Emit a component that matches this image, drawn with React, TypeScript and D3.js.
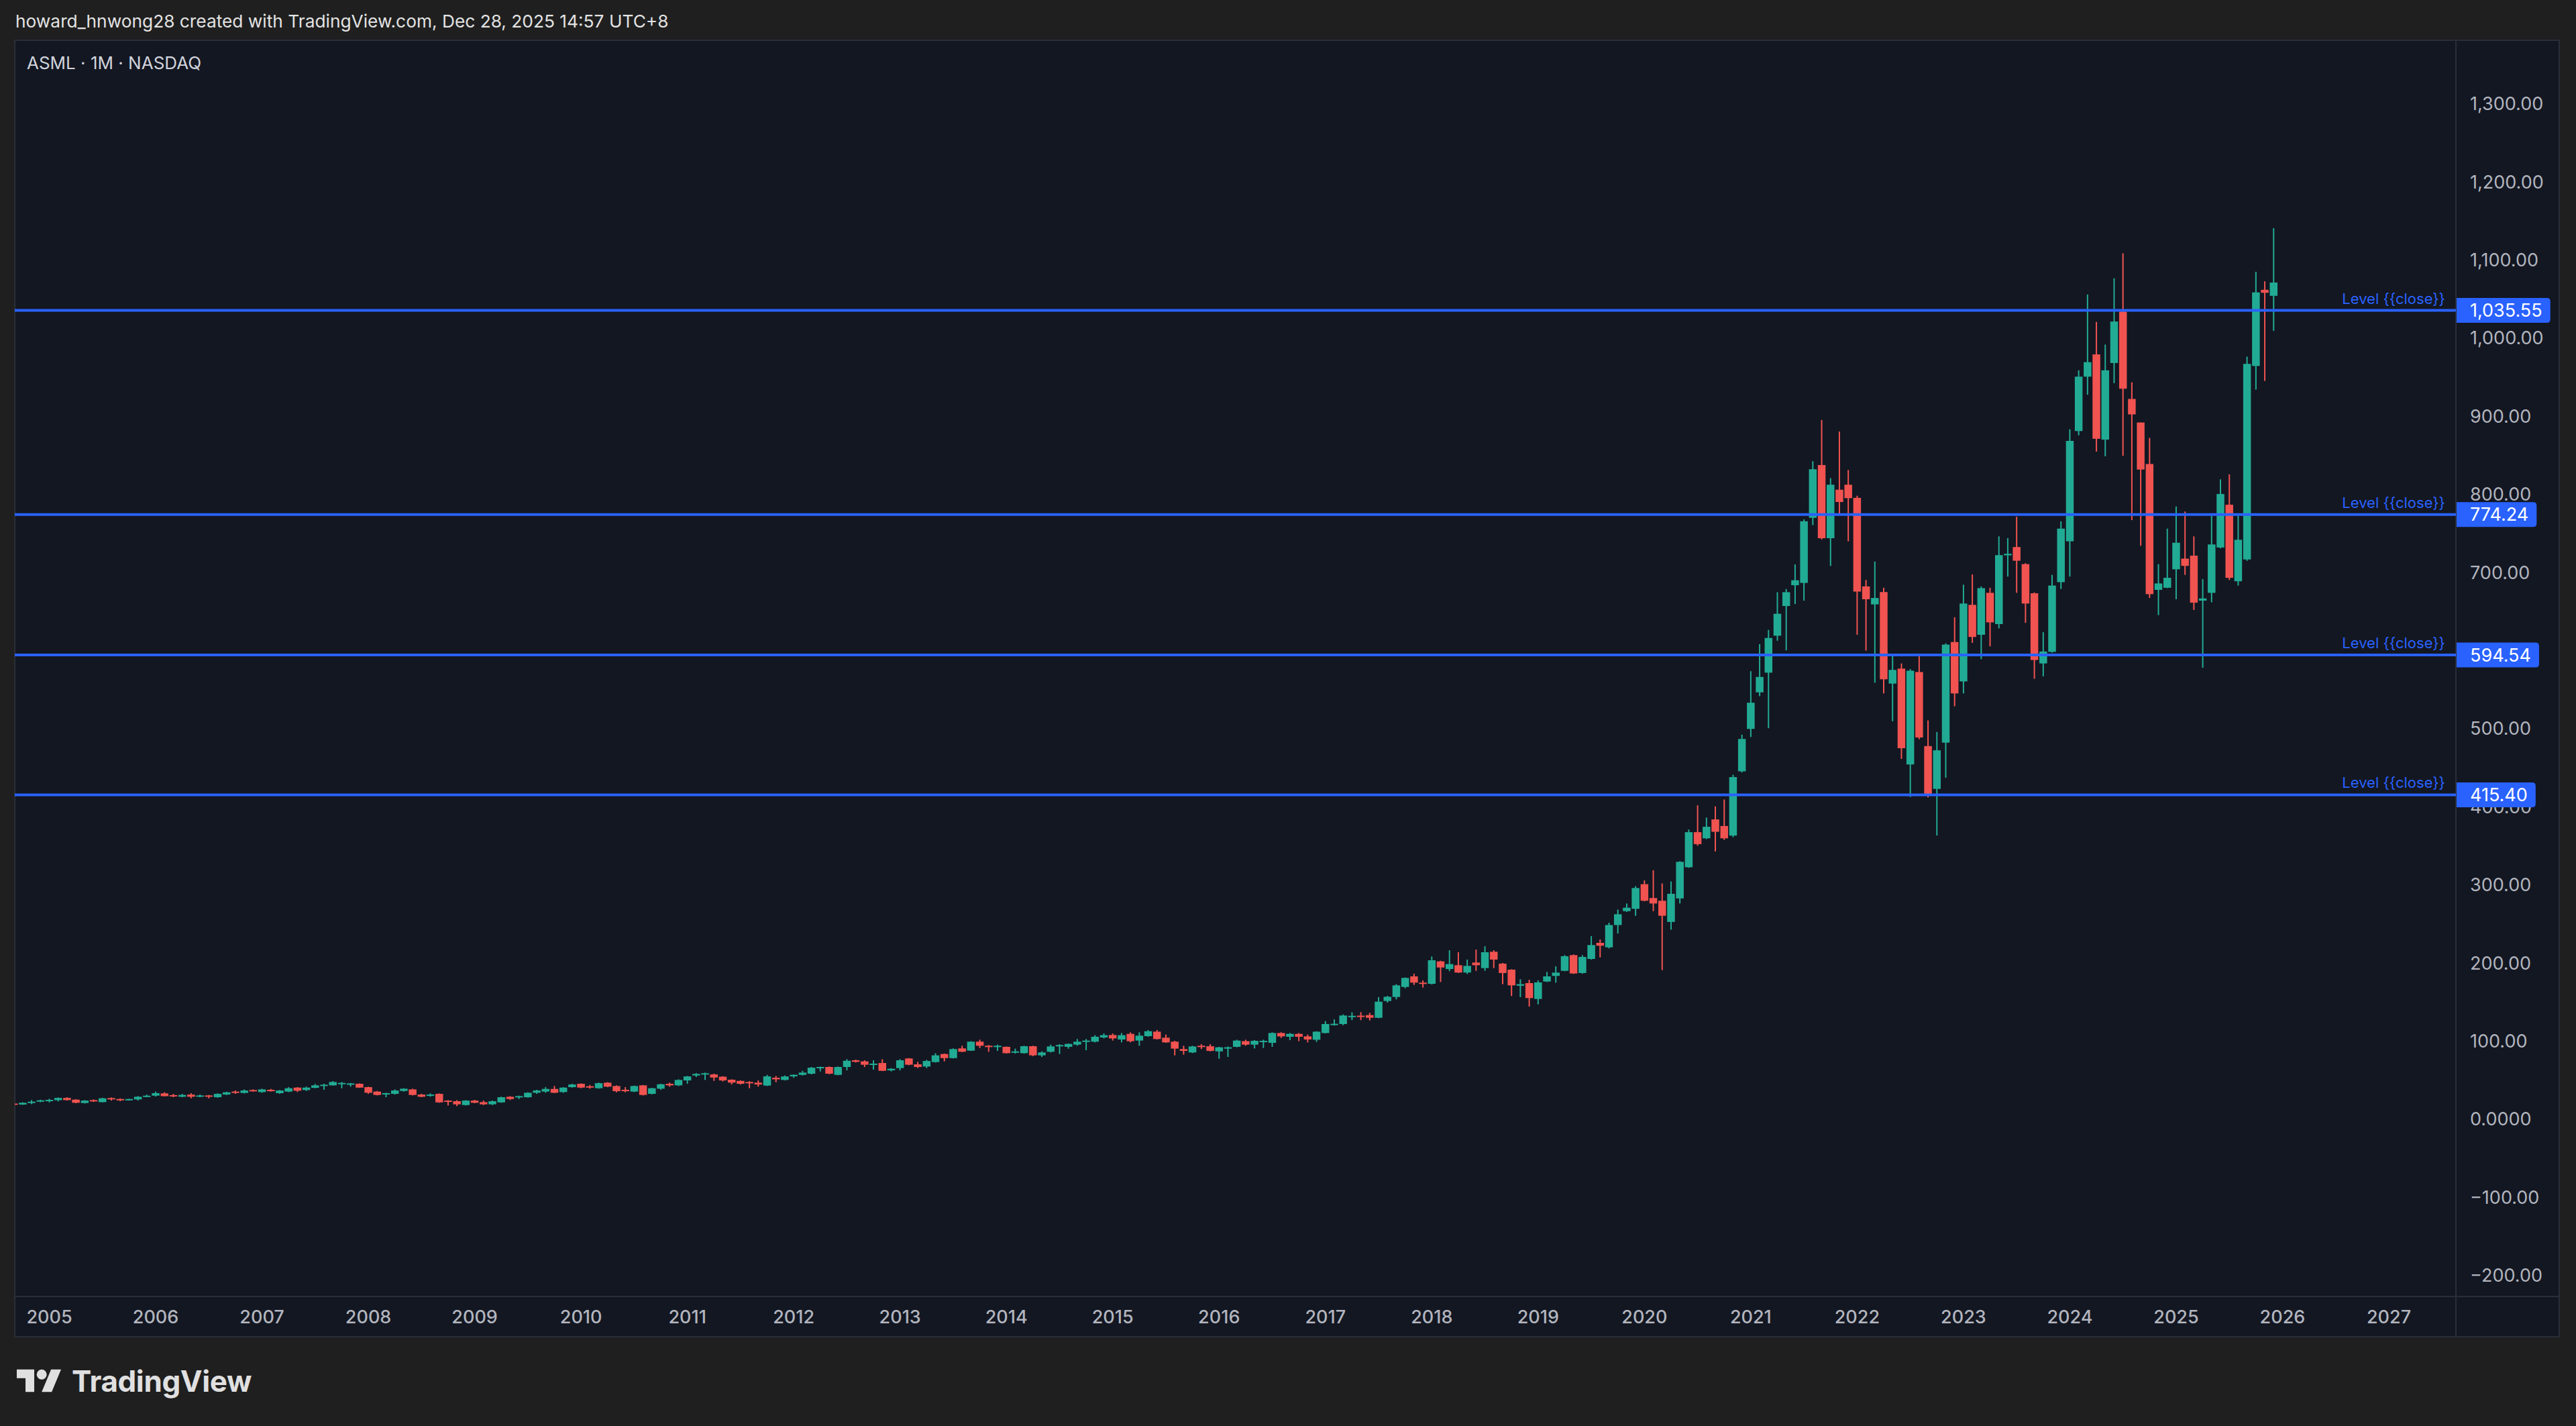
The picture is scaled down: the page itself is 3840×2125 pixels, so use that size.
import { useMemo } from "react";
import * as d3 from "d3";

// Monthly candles, first one is Sep 2004 (index -4 relative to Jan 2005)
const FIRST_MONTH_OFFSET = -4;

const OPEN = [
  20.2, 18.9, 21.0, 22.9,
  24.0, 24.5, 27.4, 25.2, 20.9, 24.6, 22.0, 27.2, 26.0, 24.3, 25.5, 28.9,
  30.3, 33.2, 31.0, 28.9, 31.7, 28.9, 30.6, 28.3, 31.7, 35.5, 33.8, 37.5,
  34.9, 37.8, 33.5, 35.5, 40.6, 37.5, 40.3, 43.5, 43.5, 45.5, 44.6, 45.5,
  41.2, 35.5, 32.0, 32.6, 36.3, 38.3, 31.7, 30.6, 32.6, 24.0, 23.2, 18.3,
  24.0, 22.0, 19.2, 21.7, 28.9, 28.3, 28.3, 34.0, 35.5, 38.9, 34.9, 41.2,
  45.5, 42.3, 39.8, 46.9, 42.6, 37.8, 35.5, 43.5, 32.6, 39.2, 45.5, 43.5,
  49.8, 56.1, 57.8, 57.5, 54.6, 50.7, 49.2, 47.8, 46.9, 43.2, 53.2, 50.4,
  55.0, 56.9, 58.4, 66.1, 67.0, 56.9, 67.0, 75.6, 74.2, 69.9, 72.1, 62.7,
  65.6, 77.9, 70.4, 67.6, 73.3, 83.6, 78.4, 90.8, 87.9, 99.4, 94.2, 92.8,
  92.8, 85.6, 84.7, 93.6, 81.9, 86.5, 93.9, 92.8, 95.6, 99.1, 99.4, 104.8,
  107.9, 102.2, 109.4, 100.8, 106.5, 112.2, 104.5, 99.4, 89.9, 85.6, 94.2, 93.6,
  87.0, 90.8, 92.8, 100.0, 95.6, 99.1, 97.9, 110.5, 105.7, 109.4, 106.2, 101.9,
  110.5, 120.8, 122.0, 131.5, 132.7, 133.4, 130.0, 151.5, 156.6, 169.5, 183.0, 175.0,
  173.5, 202.2, 192.4, 197.3, 187.9, 200.7, 193.6, 214.5, 199.3, 191.6, 171.0, 174.4,
  154.1, 176.4, 183.6, 190.1, 210.2, 187.3, 205.3, 225.9, 220.2, 248.7, 266.5, 269.5,
  301.0, 283.3, 279.8, 252.7, 282.8, 322.7, 367.6, 359.7, 383.9, 375.5, 363.2, 445.5,
  499.8, 546.6, 571.8, 619.1, 657.1, 683.7, 686.7, 770.0, 837.6, 743.9, 806.0, 812.4,
  795.6, 682.2, 659.2, 675.0, 557.8, 577.0, 454.3, 572.6, 477.8, 423.0, 482.2, 611.0,
  560.6, 658.6, 620.3, 674.0, 634.0, 722.0, 732.6, 710.7, 673.4, 583.6, 598.4, 687.7,
  740.0, 881.1, 950.7, 979.2, 870.1, 968.2, 1033.9, 922.2, 892.0, 838.9, 677.8, 680.5,
  704.1, 717.8, 721.6, 664.0, 674.0, 732.0, 786.8, 688.8, 716.7, 964.4, 1061.9, 1054.2,
];

const HIGH = [
  20.8, 21.8, 24.6, 25.2,
  26.3, 28.0, 28.3, 25.7, 24.6, 25.5, 27.7, 28.0, 26.9, 26.3, 29.7, 31.7,
  35.5, 34.6, 32.6, 32.6, 33.5, 31.7, 31.2, 33.2, 35.2, 36.9, 38.3, 38.3,
  39.2, 38.9, 37.5, 41.2, 41.2, 41.8, 45.2, 45.5, 48.9, 47.8, 46.6, 46.0,
  41.8, 36.3, 34.0, 38.3, 39.8, 39.2, 32.6, 33.2, 33.2, 24.6, 24.6, 24.6,
  24.9, 24.0, 24.0, 28.9, 29.7, 30.3, 34.6, 37.8, 41.2, 42.6, 41.2, 45.5,
  46.0, 44.0, 46.9, 47.5, 43.5, 41.2, 43.2, 44.0, 40.3, 45.5, 46.9, 51.2,
  55.5, 59.2, 59.8, 58.4, 55.2, 51.2, 49.8, 48.9, 49.8, 56.9, 55.5, 56.1,
  57.5, 62.1, 67.0, 67.6, 67.6, 67.6, 77.0, 76.4, 75.6, 75.6, 77.0, 65.6,
  77.0, 78.4, 73.6, 76.1, 84.7, 84.2, 90.8, 94.2, 100.0, 101.9, 95.1, 95.6,
  93.3, 90.5, 94.2, 94.2, 87.0, 95.6, 96.2, 97.1, 102.8, 102.8, 107.7, 110.0,
  110.0, 110.5, 111.4, 111.4, 114.3, 114.3, 108.5, 100.5, 94.2, 94.2, 96.2, 96.2,
  92.8, 93.3, 101.9, 101.9, 101.4, 101.9, 111.4, 111.4, 110.5, 110.5, 108.5, 112.8,
  125.7, 127.9, 134.3, 137.0, 137.2, 136.3, 156.4, 158.0, 173.0, 181.6, 186.4, 177.8,
  208.5, 203.0, 216.5, 213.9, 204.5, 217.3, 221.6, 216.5, 200.2, 192.1, 179.3, 178.7,
  177.8, 188.7, 195.9, 210.2, 211.1, 210.2, 234.5, 230.2, 251.7, 268.5, 276.3, 298.5,
  305.9, 318.8, 302.0, 304.5, 330.5, 371.0, 402.1, 386.3, 400.6, 409.5, 441.1, 492.4,
  573.7, 608.3, 626.5, 674.8, 678.8, 710.4, 768.1, 842.5, 895.3, 820.8, 880.5, 831.2,
  798.3, 690.4, 714.0, 680.5, 592.9, 583.6, 576.4, 592.9, 510.7, 495.9, 609.3, 642.8,
  684.4, 697.5, 682.2, 680.5, 746.3, 744.1, 771.5, 712.0, 674.5, 623.6, 697.0, 765.5,
  883.3, 958.9, 1055.9, 1020.8, 991.8, 1076.7, 1108.5, 943.5, 892.0, 872.3, 710.7, 756.2,
  784.6, 778.1, 746.3, 691.5, 772.6, 819.2, 825.7, 772.6, 976.4, 1084.9, 1072.8, 1140.8,
];

const LOW = [
  19.0, 18.5, 19.4, 22.0,
  21.7, 22.9, 24.0, 20.6, 20.3, 22.3, 21.7, 24.0, 23.2, 24.0, 24.0, 28.3,
  29.2, 29.2, 28.3, 28.3, 26.9, 28.3, 26.9, 27.7, 31.2, 32.6, 33.2, 35.5,
  34.0, 35.5, 32.6, 34.9, 34.9, 36.3, 39.8, 37.8, 43.2, 39.8, 41.8, 40.3,
  32.6, 30.6, 28.3, 31.7, 35.5, 30.6, 28.3, 28.9, 21.2, 17.7, 16.9, 17.7,
  20.6, 18.3, 18.3, 21.2, 24.6, 26.0, 27.7, 32.6, 34.0, 33.5, 34.0, 40.6,
  39.8, 39.2, 39.2, 41.2, 34.6, 34.6, 34.9, 30.6, 32.0, 37.8, 41.8, 42.6,
  45.5, 54.1, 50.4, 49.2, 48.4, 44.6, 44.6, 39.8, 41.8, 42.6, 47.5, 49.8,
  53.2, 56.1, 57.5, 61.3, 57.8, 56.4, 62.7, 72.7, 67.0, 63.6, 61.9, 61.3,
  62.7, 69.3, 65.6, 65.6, 72.7, 74.2, 77.9, 86.0, 87.6, 91.3, 86.5, 87.6,
  84.2, 84.2, 84.2, 80.8, 79.9, 85.6, 83.6, 90.5, 94.2, 88.5, 98.5, 103.6,
  100.8, 98.5, 98.5, 94.2, 105.7, 102.2, 97.9, 81.9, 82.8, 84.8, 89.9, 87.0,
  77.6, 79.9, 92.2, 94.2, 90.8, 91.3, 92.8, 104.2, 101.4, 100.0, 98.5, 99.1,
  110.0, 120.0, 120.5, 127.0, 127.0, 126.6, 129.5, 149.5, 153.5, 167.8, 172.1, 168.7,
  172.6, 175.8, 189.6, 187.3, 186.0, 190.1, 190.1, 193.6, 173.0, 157.8, 156.4, 144.3,
  147.2, 175.8, 175.0, 189.6, 186.1, 186.4, 204.5, 207.3, 218.8, 237.9, 265.5, 260.6,
  279.0, 266.5, 191.0, 242.8, 276.3, 322.0, 350.3, 358.7, 342.9, 357.7, 361.2, 444.0,
  489.4, 541.7, 500.7, 612.7, 600.4, 659.6, 664.0, 760.7, 742.4, 708.4, 774.5, 740.0,
  620.3, 600.0, 558.9, 545.2, 509.6, 461.4, 412.6, 486.6, 412.0, 363.3, 437.3, 528.8,
  545.2, 609.9, 589.1, 605.5, 628.5, 694.8, 674.0, 635.6, 563.9, 567.1, 597.3, 678.9,
  694.8, 875.6, 927.6, 854.8, 848.8, 942.4, 849.3, 767.1, 734.2, 667.4, 645.5, 680.0,
  665.8, 697.0, 652.1, 578.1, 661.9, 731.0, 690.4, 683.3, 715.0, 934.2, 945.2, 1009.3,
];

const CLOSE = [
  19.5, 21.2, 22.6, 24.3,
  24.9, 27.4, 24.6, 21.2, 24.0, 22.9, 26.9, 25.5, 24.3, 26.0, 28.9, 30.3,
  33.5, 29.7, 30.3, 31.2, 28.9, 30.6, 28.9, 32.6, 34.6, 33.8, 36.9, 36.0,
  38.3, 36.0, 36.9, 39.8, 36.6, 40.6, 43.5, 44.3, 47.8, 46.6, 46.0, 40.6,
  34.0, 31.2, 33.5, 36.9, 39.2, 31.2, 28.9, 31.7, 21.7, 22.6, 19.2, 24.0,
  21.2, 19.2, 23.2, 28.3, 26.0, 29.7, 34.0, 36.9, 38.9, 34.0, 40.6, 44.6,
  40.6, 40.6, 46.3, 41.8, 36.0, 36.0, 42.6, 31.2, 39.8, 44.9, 43.5, 50.4,
  54.9, 58.1, 59.0, 53.5, 49.8, 47.0, 45.5, 46.3, 44.6, 55.0, 51.2, 54.9,
  57.0, 59.8, 66.1, 67.0, 58.4, 67.0, 75.0, 73.6, 69.9, 71.3, 62.1, 64.7,
  75.6, 69.9, 67.0, 74.7, 81.9, 78.4, 89.9, 86.5, 99.4, 94.2, 93.3, 94.2,
  84.7, 87.0, 93.6, 81.9, 85.6, 93.3, 95.1, 96.5, 99.4, 100.8, 105.7, 107.7,
  103.6, 107.7, 100.0, 107.1, 112.8, 102.8, 98.5, 90.5, 87.6, 93.3, 92.8, 87.6,
  92.2, 92.2, 100.8, 95.6, 100.5, 100.5, 110.5, 106.2, 109.4, 105.7, 102.2, 112.2,
  122.0, 122.3, 132.9, 132.5, 131.7, 130.0, 150.6, 156.9, 171.5, 181.0, 175.0, 173.5,
  203.6, 194.4, 198.7, 187.9, 196.4, 197.3, 213.9, 204.5, 187.3, 171.5, 173.0, 155.2,
  175.3, 183.0, 187.8, 208.8, 186.7, 207.9, 223.1, 222.2, 248.7, 262.5, 270.9, 296.1,
  279.8, 276.3, 260.6, 288.7, 329.6, 367.6, 352.3, 374.5, 368.1, 359.7, 438.1, 486.9,
  533.3, 566.3, 616.2, 647.2, 674.8, 690.1, 765.6, 832.2, 743.9, 812.4, 790.3, 795.2,
  675.6, 665.8, 667.4, 563.3, 575.3, 475.1, 574.3, 488.8, 414.8, 472.4, 607.7, 545.2,
  660.3, 617.5, 680.0, 636.2, 722.2, 724.0, 715.1, 660.3, 588.0, 598.9, 683.3, 756.2,
  868.5, 950.7, 969.3, 871.2, 958.9, 1021.3, 935.3, 902.4, 831.8, 672.3, 686.0, 693.2,
  738.1, 708.5, 661.4, 666.8, 735.9, 800.5, 693.2, 741.9, 967.1, 1058.6, 1058.1, 1071.2,
];

const YEAR_LABELS = [
  "2005", "2006", "2007", "2008", "2009", "2010", "2011", "2012", "2013", "2014", "2015", "2016",
  "2017", "2018", "2019", "2020", "2021", "2022", "2023", "2024", "2025", "2026", "2027",
];

const PRICE_TICKS = [-200, -100, 0, 100, 200, 300, 400, 500, 600, 700, 800, 900, 1000, 1100, 1200, 1300];
const PRICE_TICK_LABELS = [
  "−200.00", "−100.00", "0.0000", "100.00", "200.00", "300.00", "400.00", "500.00",
  "600.00", "700.00", "800.00", "900.00", "1,000.00", "1,100.00", "1,200.00", "1,300.00",
];

const LEVELS = [1035.55, 774.24, 594.54, 415.4];
const LEVEL_LABELS = ["1,035.55", "774.24", "594.54", "415.40"];

const HEADER = "howard_hnwong28 created with TradingView.com, Dec 28, 2025 14:57 UTC+8";
const SYMBOL = "ASML · 1M · NASDAQ";

const FONT = "Inter, 'Noto Sans', sans-serif";
const UP = "#22ab94";
const DOWN = "#f05350";
const BLUE = "#2962ff";

export default function App() {
  const width = 3840;
  const height = 2125;
  const pane = { left: 22, top: 60, right: 3815, bottom: 1992 };
  const axisX = 3661;
  const axisY = 1932;

  const x = d3.scaleLinear().domain([0, 264]).range([73.5, 3561]);
  const y = d3.scaleLinear().domain([0, 1300]).range([1668, 154.7]);

  const candles = OPEN.map((o, i) => ({
    m: i + FIRST_MONTH_OFFSET,
    o,
    h: HIGH[i],
    l: LOW[i],
    c: CLOSE[i],
  }));

  const bodyW = 11.5;

  // label widths for the price-scale boxes
  const labelWidths = useMemo(() => {
    const ctx = document.createElement("canvas").getContext("2d");
    if (!ctx) return LEVEL_LABELS.map((t) => t.length * 15);
    ctx.font = `27px Inter`;
    return LEVEL_LABELS.map((t) => ctx.measureText(t).width);
  }, []);

  const boxPath = (x0: number, yc: number, w: number, h: number, r: number) => {
    const t = yc - h / 2;
    const b = yc + h / 2;
    return `M${x0},${t}H${x0 + w - r}Q${x0 + w},${t} ${x0 + w},${t + r}V${b - r}Q${x0 + w},${b} ${x0 + w - r},${b}H${x0}Z`;
  };

  return (
    <svg
      width={width}
      height={height}
      style={{ position: "absolute", left: 0, top: 0, display: "block" }}
      fontFamily={FONT}
    >
      <defs>
        <clipPath id="plot-clip">
          <rect x={pane.left} y={pane.top} width={axisX - pane.left} height={axisY - pane.top} />
        </clipPath>
      </defs>

      <rect x={0} y={0} width={width} height={height} fill="#1f1f1f" />
      <text x={23} y={41} fill="#e3e3e3" fontSize={26.3}>
        {HEADER}
      </text>

      <rect
        x={pane.left}
        y={pane.top}
        width={pane.right - pane.left}
        height={pane.bottom - pane.top}
        fill="#131722"
        stroke="#2a2e39"
        strokeWidth={2}
      />
      <line x1={axisX} x2={axisX} y1={pane.top} y2={pane.bottom} stroke="#2a2e39" strokeWidth={2} />
      <line x1={pane.left} x2={pane.right} y1={axisY} y2={axisY} stroke="#2a2e39" strokeWidth={2} />

      <text x={40} y={103} fill="#d1d4dc" fontSize={26}>
        {SYMBOL}
      </text>

      {/* candles */}
      <g clipPath="url(#plot-clip)">
        {candles.map((d, i) => {
          const cx = x(d.m);
          const col = d.c >= d.o ? UP : DOWN;
          const top = y(Math.max(d.o, d.c));
          const bh = Math.max(Math.abs(y(d.o) - y(d.c)), 2);
          return (
            <g key={i}>
              <line x1={cx} x2={cx} y1={y(d.h)} y2={y(d.l)} stroke={col} strokeWidth={2} />
              <rect x={cx - bodyW / 2} y={top} width={bodyW} height={bh} fill={col} />
            </g>
          );
        })}

        {LEVELS.map((v, i) => (
          <line key={i} x1={pane.left} x2={axisX} y1={y(v)} y2={y(v)} stroke={BLUE} strokeWidth={4} />
        ))}
      </g>

      {LEVELS.map((v, i) => (
        <text key={i} x={3645} y={y(v) - 10} fill={BLUE} fontSize={22} textAnchor="end">
          Level {"{{close}}"}
        </text>
      ))}

      {/* price scale */}
      {PRICE_TICKS.map((v, i) => (
        <text key={v} x={3682} y={y(v)} dy="0.35em" fill="#b2b5be" fontSize={27}>
          {PRICE_TICK_LABELS[i]}
        </text>
      ))}

      {LEVELS.map((v, i) => (
        <g key={i}>
          <path d={boxPath(axisX + 1, y(v), 20 + labelWidths[i] + 12, 37, 5)} fill={BLUE} />
          <text x={3682} y={y(v)} dy="0.36em" fill="#ffffff" fontSize={27}>
            {LEVEL_LABELS[i]}
          </text>
        </g>
      ))}

      {/* time scale */}
      {YEAR_LABELS.map((t, i) => (
        <text
          key={t}
          x={x(i * 12)}
          y={1963}
          dy="0.35em"
          fill="#b2b5be"
          fontSize={27}
          fontWeight={500}
          textAnchor="middle"
        >
          {t}
        </text>
      ))}

      {/* TradingView logo */}
      <g transform="translate(25,2033.4) scale(1.86)" fill="#e0e0e0">
        <path d="M14 22H7V11H0V4h14v18z" />
        <circle cx={20} cy={8} r={4} />
        <path d="M28 22h-8l7.5-18h8L28 22z" />
      </g>
      <text x={107} y={2074} fill="#e0e0e0" fontSize={44} fontWeight={700} letterSpacing={-0.4}>
        TradingView
      </text>
    </svg>
  );
}
